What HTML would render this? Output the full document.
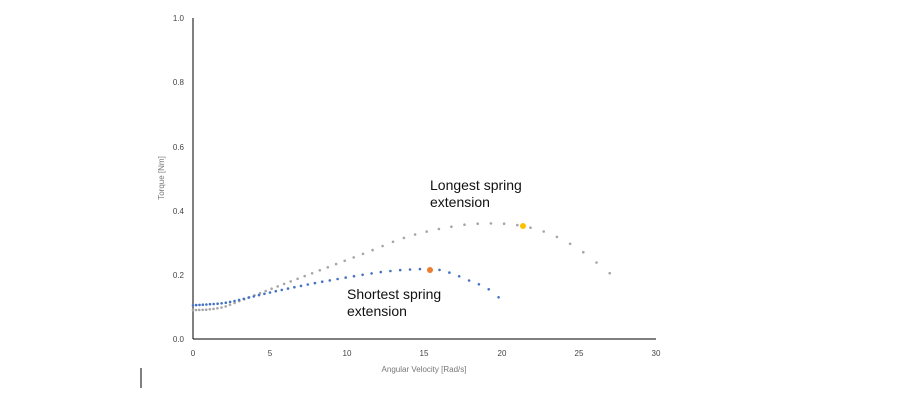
<!DOCTYPE html><html><head><style>body{margin:0;background:#fff}svg{font-family:"Liberation Sans",sans-serif}</style></head><body>
<svg id="s" width="898" height="400" xmlns="http://www.w3.org/2000/svg">
<line x1="193" y1="18" x2="193" y2="339" stroke="#000" stroke-width="1"/>
<line x1="193" y1="339" x2="656" y2="339" stroke="#000" stroke-width="1"/>
<g font-size="8" fill="#444" text-anchor="end">
<text x="184" y="21">1.0</text><text x="184" y="85">0.8</text><text x="184" y="150">0.6</text><text x="184" y="214">0.4</text><text x="184" y="278">0.2</text><text x="184" y="342">0.0</text></g>
<g font-size="8" fill="#444" text-anchor="middle">
<text x="193" y="356">0</text><text x="270" y="356">5</text><text x="347" y="356">10</text><text x="424" y="356">15</text><text x="502" y="356">20</text><text x="579" y="356">25</text><text x="656" y="356">30</text></g>
<text x="424" y="372" font-size="8" fill="#777" text-anchor="middle">Angular Velocity [Rad/s]</text>
<text transform="translate(164,178) rotate(-90)" font-size="8" fill="#777" text-anchor="middle">Torque [Nm]</text>
<g font-size="14" fill="#111"><text x="430" y="190">Longest spring</text><text x="430" y="207">extension</text>
<text x="347" y="299">Shortest spring</text><text x="347" y="316">extension</text></g>
<line x1="141" y1="368" x2="141" y2="388" stroke="#000"/>
<g id="pts"></g>
<circle cx="430" cy="270" r="3" fill="#ed7d31"/>
<circle cx="523" cy="226" r="3" fill="#ffc000"/>
</svg>
<script>
function X(v){return 193+v*463/30}function Y(v){return 339-v*321}
function interp(k,x){for(var i=0;i<k.length-1;i++){if(x<=k[i+1][0]){var p0=k[Math.max(i-1,0)],p1=k[i],p2=k[i+1],p3=k[Math.min(i+2,k.length-1)];var t=(x-p1[0])/(p2[0]-p1[0]);var m1=(p2[1]-p0[1])/(p2[0]-p0[0])*(p2[0]-p1[0]),m2=(p3[1]-p1[1])/(p3[0]-p1[0])*(p2[0]-p1[0]);var t2=t*t,t3=t2*t;return (2*t3-3*t2+1)*p1[1]+(t3-2*t2+t)*m1+(-2*t3+3*t2)*p2[1]+(t3-t2)*m2;}}return k[k.length-1][1]}
var g=[[0,0.09],[1,0.092],[2,0.1],[3,0.118],[5,0.155],[8,0.21],[11,0.265],[14,0.32],[17,0.352],[19,0.36],[21,0.355],[23,0.33],[25,0.28],[27,0.205]];
var b=[[0,0.105],[1,0.108],[2,0.112],[3,0.122],[5,0.145],[8,0.175],[11,0.2],[13,0.213],[15,0.218],[16,0.215],[17,0.2],[18,0.18],[19,0.16],[19.8,0.13]];
var h='';
function dot(k,x,c){h+='<circle cx="'+X(x).toFixed(1)+'" cy="'+Y(interp(k,x)).toFixed(1)+'" r="1.3" fill="'+c+'"/>';}
function run(k,end,n,d0,d1,c){var xs=[0],x=0;while(true){var s=d0+(d1-d0)*Math.min(1,x/end*1.6);x+=s;if(x>end)break;xs.push(x);}
var sc=end/xs[xs.length-1];xs.forEach(function(v){dot(k,v*sc,c);});}
run(g,27,0,0.2,0.85,'#a5a5a5');run(b,19.8,0,0.2,0.62,'#4472c4');
document.getElementById('pts').innerHTML=h;
</script></body></html>
